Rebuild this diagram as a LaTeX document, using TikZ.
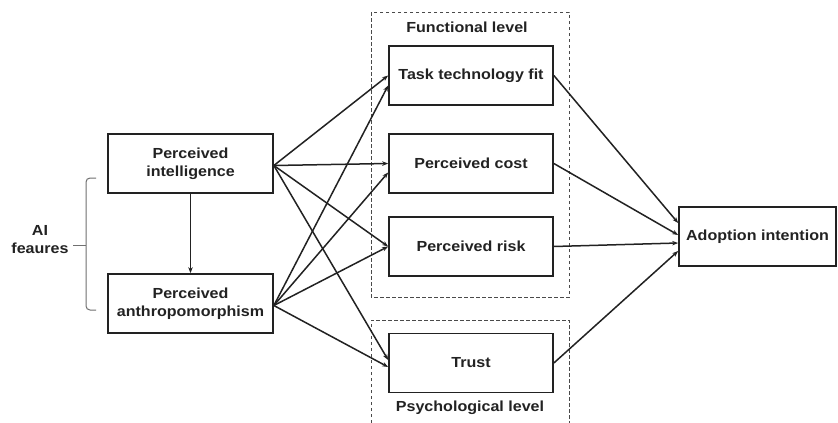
\documentclass[tikz,border=0pt]{standalone}
\usepackage{fontspec}
\setmainfont{Liberation Sans}[FakeStretch=1.1]
\usetikzlibrary{arrows.meta,calc}
\definecolor{ink}{HTML}{222222}
\definecolor{dashgray}{HTML}{4A4A4A}
\definecolor{bracegray}{HTML}{707070}

\begin{document}
\begin{tikzpicture}[x=1pt,y=-1pt,
  lbl/.style={font=\fontsize{14.6}{18}\selectfont\bfseries,text=ink,align=center,inner sep=0pt},
  box/.style={lbl,draw=ink,line width=1.7pt,minimum width=164pt,minimum height=59pt},
  arr/.style={draw=ink,line width=1.5pt,-{Stealth[length=6pt,width=4.5pt]}},
  group/.style={draw=dashgray,line width=1pt,dash pattern=on 3.5pt off 2.5pt}
]
\useasboundingbox (0,0) rectangle (838,423);
\fill[white] (0,0) rectangle (838,423);

% dashed groups
\draw[group] (371,12) rectangle (569,297);
\draw[group] (371,423) -- (371,320) -- (569,320) -- (569,423);
\node[lbl] (funlbl) at (467,27) {Functional level};
\node[lbl] (psylbl) at (470,408) {Psychological level};

% AI features
\node[box,minimum width=165pt] (pi) at (190.5,163.5) {Perceived\\intelligence};
\node[box,minimum width=165pt] (pa) at (190.5,303.5) {Perceived\\anthropomorphism};

% mediators
\node[box] (ttf) at (471,75.5) {Task technology fit};
\node[box] (pc) at (471,163.5) {Perceived cost};
\node[box] (pr) at (471,246.5) {Perceived risk};
\node[box] (tr) at (471,363) {Trust};

% outcome
\node[box,minimum width=157pt] (ai) at (757.5,236.5) {Adoption intention};

% brace grouping the two features
\draw[bracegray,line width=1pt,rounded corners=4pt]
  (96,178) -- (86,178) -- (86,245) -- (86,310) -- (96,310);
\coordinate (tip) at (73,245);
\draw[bracegray,line width=1pt] (86,245) -- (tip);
\node[lbl] (feat) at (40,240) {AI\\feaures};

% paths
\draw[arr] (pi.south) -- (pa.north);

\draw[arr] ($(pi.east)+(0,2)$) -- (ttf.west);
\draw[arr] ($(pi.east)+(0,2)$) -- (pc.west);
\draw[arr] ($(pi.east)+(0,2)$) -- (pr.west);
\draw[arr] ($(pi.east)+(0,2)$) -- ($(tr.west)+(0,-3)$);

\draw[arr] ($(pa.east)+(0,2)$) -- ($(ttf.west)+(0,10)$);
\draw[arr] ($(pa.east)+(0,2)$) -- ($(pc.west)+(0,9)$);
\draw[arr] ($(pa.east)+(0,2)$) -- (pr.west);
\draw[arr] ($(pa.east)+(0,2)$) -- ($(tr.west)+(0,4)$);

\draw[arr] (ttf.east) -- ($(ai.west)+(0,-13.5)$);
\draw[arr] (pc.east) -- ($(ai.west)+(0,-1.5)$);
\draw[arr] (pr.east) -- ($(ai.west)+(0,6.5)$);
\draw[arr] (tr.east) -- ($(ai.west)+(0,14.5)$);
\end{tikzpicture}
\end{document}
